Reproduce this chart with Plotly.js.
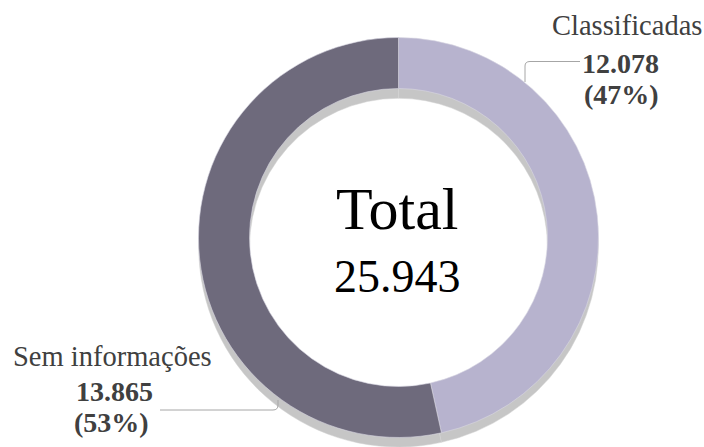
<!DOCTYPE html>
<html>
<head>
<meta charset="utf-8">
<script src="https://cdn.plot.ly/plotly-3.0.1.min.js"></script>
<style>
  body { margin: 0; background: #fff; }
  #chart { width: 704px; height: 447px; }
</style>
</head>
<body>
<div id="chart"></div>
<script>
var categories = ["Classificadas", "Sem informações"];
var values = [12078, 13865];
var valueLabels = ["12.078", "13.865"];
var percentLabels = ["(47%)", "(53%)"];
var totalLabel = "25.943";

var W = 704, H = 447;
// pixel -> paper helpers
function px(x) { return x / W; }
function py(y) { return 1 - y / H; }

var serif = "Liberation Serif, DejaVu Serif, serif";
var labelColor = "#404040";

// gray copy shifted down, gives the extruded look
var shadow = {
  type: "pie",
  values: values,
  labels: categories,
  sort: false,
  direction: "clockwise",
  hole: 0.746,
  textinfo: "none",
  hoverinfo: "skip",
  showlegend: false,
  marker: { colors: ["#c6c6c6", "#c6c6c6"], line: { color: "#d2d2d2", width: 0.5 } },
  domain: { x: [px(198.5), px(598.5)], y: [0, py(47.5)] }
};

var donut = {
  type: "pie",
  values: values,
  labels: categories,
  sort: false,
  direction: "clockwise",
  hole: 0.745,
  textinfo: "none",
  showlegend: false,
  marker: { colors: ["#b7b3ce", "#6e6a7c"], line: { color: "#d8d6e2", width: 0.6 } },
  domain: { x: [px(198.5), px(598.5)], y: [py(437.5), py(37.5)] }
};

function ann(text, x, y, size, color) {
  return {
    xref: "paper", yref: "paper", x: px(x), y: py(y),
    xanchor: "center", yanchor: "middle", showarrow: false,
    text: text, font: { family: serif, size: size, color: color }
  };
}

var annotations = [
  ann("Total", 397, 209, 60, "#000"),
  ann(totalLabel, 397, 276, 46, "#000"),
  ann(categories[0], 627, 26, 28.5, labelColor),
  ann("<b>" + valueLabels[0] + "</b>", 620, 63, 28, labelColor),
  ann("<b>" + percentLabels[0] + "</b>", 621, 94, 28, labelColor),
  ann(categories[1], 112, 356, 28.5, labelColor),
  ann("<b>" + valueLabels[1] + "</b>", 114, 391, 28, labelColor),
  ann("<b>" + percentLabels[1] + "</b>", 111, 422, 28, labelColor)
];

function path(pts) {
  return pts.map(function (p, i) {
    return (p[0] === "Q" ? "Q" : (i === 0 ? "M" : "L")) +
      (p[0] === "Q" ? px(p[1]) + "," + py(p[2]) + " " + px(p[3]) + "," + py(p[4])
                    : px(p[0]) + "," + py(p[1]));
  }).join(" ");
}

var shapes = [
  { type: "path", xref: "paper", yref: "paper",
    path: path([[525, 82], [525, 66], ["Q", 525, 61.5, 530, 61.5], [580, 61.5]]),
    line: { color: "#a6a6a6", width: 1 } },
  { type: "path", xref: "paper", yref: "paper",
    path: path([[278, 400], [278, 405], ["Q", 278, 410, 273, 410], [160, 410]]),
    line: { color: "#a6a6a6", width: 1 } }
];

var layout = {
  width: W,
  height: H,
  margin: { l: 0, r: 0, t: 0, b: 0 },
  paper_bgcolor: "#fff",
  showlegend: false,
  annotations: annotations,
  shapes: shapes
};

Plotly.newPlot("chart", [shadow, donut], layout, { displayModeBar: false, staticPlot: true });
</script>
</body>
</html>
